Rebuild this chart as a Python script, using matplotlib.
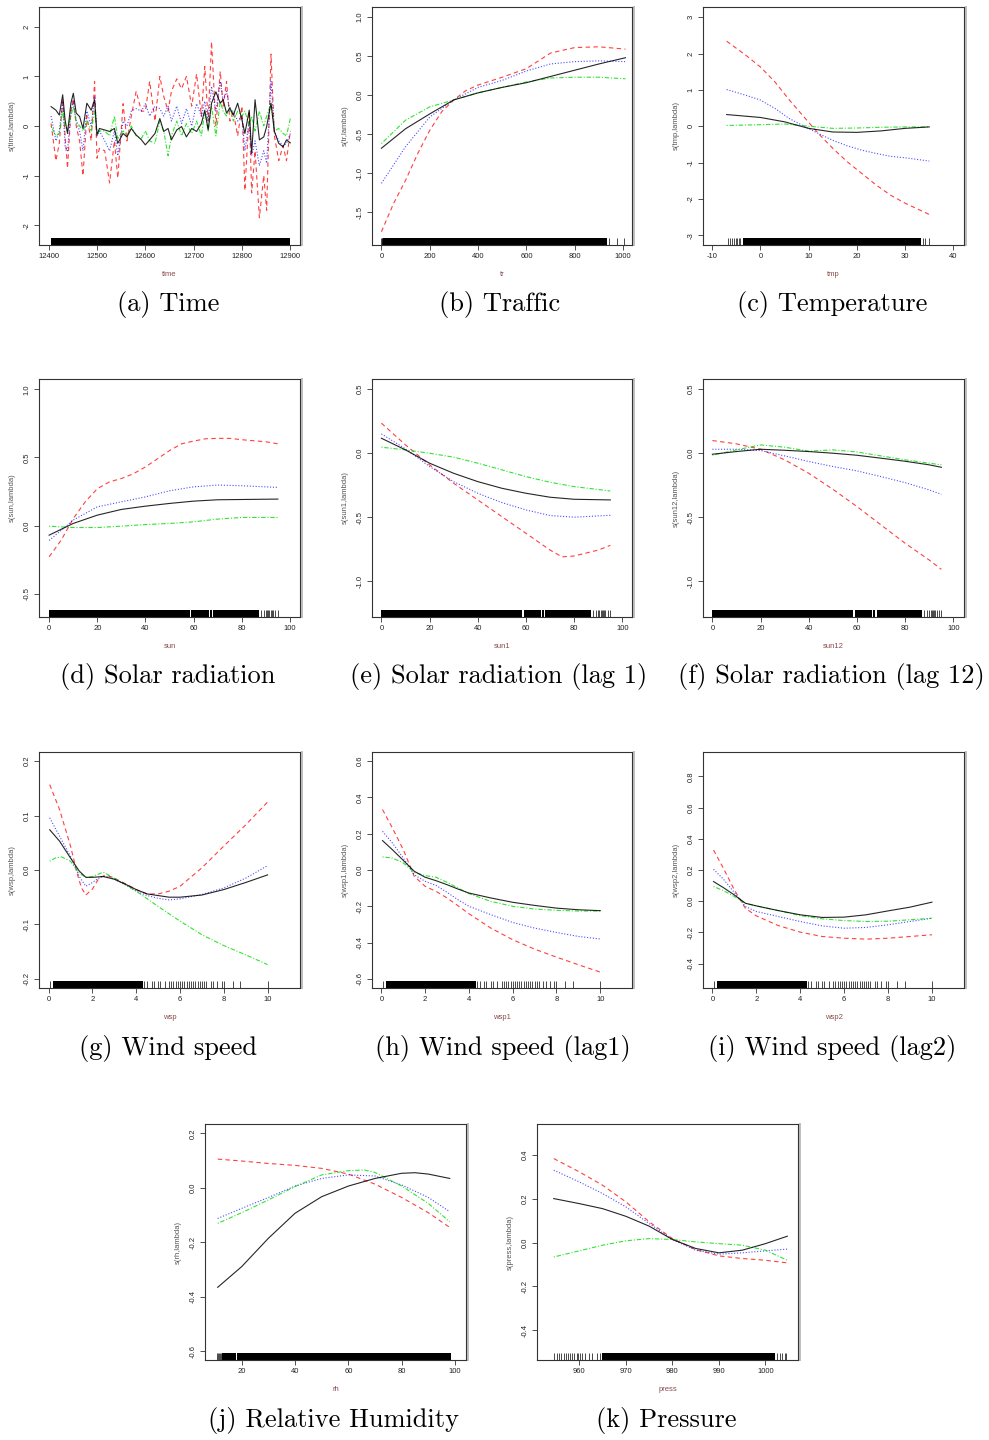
import matplotlib
matplotlib.use("Agg")
import matplotlib.pyplot as plt

W, H = 989, 1440

# ---------------- data ----------------
# (a) time
time_t = [12405, 12415, 12422, 12429, 12434, 12439, 12446, 12451, 12457, 12464,
          12471, 12479, 12488, 12495, 12500, 12505, 12516, 12526, 12536, 12543,
          12554, 12562, 12571, 12581, 12592, 12600, 12609, 12620, 12630, 12638,
          12647, 12654, 12665, 12675, 12685, 12696, 12706, 12716, 12723, 12730,
          12737, 12746, 12755, 12761, 12768, 12775, 12782, 12791, 12800, 12806,
          12815, 12820, 12827, 12836, 12845, 12851, 12860, 12867, 12876, 12885,
          12892, 12900]
time_black = [0.39, 0.32, 0.22, 0.63, 0.12, -0.15, 0.46, 0.66, 0.26, 0.19,
              -0.05, 0.46, 0.32, 0.53, -0.18, -0.05, -0.08, -0.11, -0.05, -0.35,
              -0.15, -0.22, -0.05, -0.18, -0.28, -0.38, -0.28, -0.15, 0.15, -0.11,
              -0.05, -0.28, -0.08, -0.01, -0.22, -0.05, -0.11, 0.05, 0.32, -0.08,
              0.46, 0.69, 0.46, 0.53, 0.26, 0.36, 0.22, 0.46, 0.12, -0.15,
              0.32, -0.55, 0.53, -0.28, -0.22, -0.01, 0.46, -0.11, -0.35, -0.42,
              -0.28, -0.34]
time_red = [0.05, -0.7, -0.35, 0.55, -0.2, -0.85, 0.3, 0.55, 0.0, -0.3,
            -1.0, 0.2, -0.3, 0.9, -0.65, -0.45, -0.5, -1.15, -0.3, -1.05,
            0.45, -0.3, 0.2, 0.7, 0.3, 0.3, 0.9, 0.1, 1.0, 0.6,
            0.3, 0.7, 0.95, 0.75, 1.0, 0.4, 1.05, 0.2, 1.2, 0.1,
            1.7, 0.0, 1.1, 0.4, 0.9, 0.1, 0.3, -0.2, 0.4, -1.3,
            0.3, -1.35, -0.5, -1.85, -1.0, -1.7, 1.45, -0.2, -0.7, -0.4,
            -0.7, -0.1]
time_blue = [0.2, -0.3, -0.1, 0.5, -0.4, -0.5, 0.3, 0.5, 0.1, -0.1,
             -0.5, 0.3, 0.0, 0.6, -0.2, -0.1, -0.3, -0.5, -0.1, -0.6,
             0.1, 0.0, 0.3, 0.35, 0.3, 0.45, 0.2, 0.4, 0.35, 0.2,
             0.4, 0.1, 0.4, 0.05, 0.35, 0.0, 0.45, 0.2, 0.5, 0.1,
             0.8, 0.3, 0.9, 0.5, 0.7, 0.3, 0.3, 0.1, 0.2, -0.5,
             0.1, -0.6, -0.3, -0.8, -0.5, -0.75, 0.9, -0.1, -0.3, -0.4,
             -0.35, -0.15]
time_green = [0.0, -0.2, -0.15, 0.3, 0.0, -0.1, 0.2, 0.4, 0.1, 0.0,
              -0.1, 0.1, -0.1, 0.3, -0.15, -0.1, -0.1, -0.2, 0.2, -0.25,
              -0.1, -0.2, 0.0, -0.2, -0.25, -0.1, -0.3, -0.35, 0.1, -0.1,
              -0.6, -0.2, 0.1, -0.2, 0.05, -0.15, 0.1, -0.2, 0.3, -0.1,
              0.4, -0.2, 0.5, 0.3, 0.2, 0.4, 0.1, 0.3, 0.2, 0.3,
              0.0, 0.2, -0.1, 0.3, 0.0, 0.2, 0.45, -0.1, -0.05, -0.15,
              -0.2, 0.15]
time_rug_span = [(12405, 12900)]
time_rug = []

# (b) traffic
tr_x = [0, 100, 200, 300, 400, 500, 600, 700, 800, 900, 1010]
tr_black = [-0.68, -0.43, -0.24, -0.06, 0.03, 0.10, 0.16, 0.24, 0.32, 0.40, 0.48]
tr_blue = [-1.13, -0.66, -0.28, -0.06, 0.10, 0.19, 0.31, 0.40, 0.43, 0.44, 0.43]
tr_green = [-0.62, -0.32, -0.15, -0.06, 0.03, 0.10, 0.17, 0.22, 0.23, 0.23, 0.21]
tr_red_x = [0, 50, 100, 150, 200, 250, 300, 350, 400, 500, 600, 700, 800, 900, 1010]
tr_red = [-1.75, -1.39, -1.09, -0.75, -0.45, -0.21, -0.06, 0.06, 0.13, 0.23, 0.34,
          0.54, 0.61, 0.62, 0.59]
tr_rug_span = [(8, 935)]
tr_rug = [0, 2, 4, 940, 975, 1003]

# (c) temperature
tmp_x = [-7, 0, 5, 10, 15, 20, 25, 30, 35]
tmp_black = [0.32, 0.24, 0.12, -0.06, -0.16, -0.17, -0.13, -0.06, -0.02]
tmp_green = [0.02, 0.04, 0.06, 0.0, -0.06, -0.05, -0.03, -0.02, -0.02]
tmp_x2 = [-7, -3, 0, 3, 6, 9, 12, 15, 18, 21, 24, 27, 30, 35]
tmp_red = [2.34, 1.95, 1.63, 1.22, 0.72, 0.26, -0.20, -0.61, -0.98, -1.30, -1.62,
           -1.90, -2.12, -2.43]
tmp_blue = [1.01, 0.85, 0.72, 0.49, 0.21, 0.0, -0.2, -0.39, -0.54, -0.66, -0.75,
            -0.83, -0.87, -0.96]
tmp_rug_span = [(-3.7, 33.2)]
tmp_rug = [-6.7, -6.4, -5.8, -5.5, -5.1, -4.8, -4.5, -4.2, 33.8, 34.1, 34.9]

# (d) solar radiation
sun_x = [0, 10, 20, 30, 40, 50, 60, 70, 80, 95]
sun_black = [-0.071, 0.015, 0.076, 0.118, 0.142, 0.162, 0.179, 0.189, 0.191, 0.194]
sun_green = [-0.005, -0.015, -0.015, -0.005, 0.007, 0.015, 0.027, 0.047, 0.059, 0.059]
sun_blue = [-0.11, 0.04, 0.137, 0.174, 0.21, 0.255, 0.284, 0.297, 0.292, 0.28]
sun_red_x = [0, 5, 10, 15, 20, 25, 30, 35, 40, 45, 50, 55, 60, 65, 70, 75, 80, 90, 95]
sun_red = [-0.23, -0.108, 0.05, 0.174, 0.27, 0.32, 0.345, 0.38, 0.43, 0.49, 0.55,
           0.60, 0.62, 0.637, 0.64, 0.64, 0.63, 0.615, 0.60]
sun_rug_span = [(0, 58.5), (59, 66.3), (66.8, 67.6), (68.1, 87)]
sun_rug = [88, 89.2, 90, 90.5, 91, 91.5, 92, 92.5, 93, 94, 95]

# (e) solar radiation lag 1
sun1_x = [0, 10, 20, 30, 40, 50, 60, 70, 80, 95]
sun1_black = [0.117, 0.026, -0.078, -0.157, -0.222, -0.274, -0.313, -0.344, -0.36, -0.365]
sun1_blue = [0.151, 0.034, -0.104, -0.222, -0.313, -0.386, -0.443, -0.487, -0.50, -0.485]
sun1_green = [0.047, 0.026, 0.0, -0.031, -0.078, -0.13, -0.183, -0.227, -0.261, -0.295]
sun1_red_x = [0, 10, 20, 30, 40, 50, 60, 70, 75, 80, 90, 95]
sun1_red = [0.235, 0.065, -0.091, -0.235, -0.365, -0.496, -0.626, -0.757, -0.81,
            -0.803, -0.757, -0.72]

# (f) solar radiation lag 12
sun12_x = [0, 10, 20, 30, 40, 50, 60, 70, 80, 90, 95]
sun12_black = [-0.008, 0.013, 0.031, 0.023, 0.013, 0.0, -0.016, -0.039, -0.063, -0.091, -0.11]
sun12_red = [0.099, 0.073, 0.031, -0.052, -0.157, -0.282, -0.417, -0.561, -0.704, -0.835, -0.908]
sun12_blue = [0.031, 0.031, 0.021, -0.021, -0.065, -0.104, -0.138, -0.183, -0.23, -0.287, -0.321]
sun12_green = [-0.016, 0.026, 0.065, 0.047, 0.016, 0.026, 0.010, -0.021, -0.052, -0.078, -0.091]

# (g) wind speed
wsp_x = [0.05, 0.5, 1.0, 1.4, 1.7, 2.0, 2.5, 3.0, 3.5, 4.0, 4.5, 5.0, 5.5, 6.0, 7.0, 8.0, 9.0, 10]
wsp_black = [0.074, 0.053, 0.022, -0.002, -0.0135, -0.0135, -0.012, -0.017, -0.026, -0.036,
             -0.044, -0.047, -0.05, -0.05, -0.046, -0.036, -0.023, -0.009]
wsp_red_x = [0.05, 0.5, 1.0, 1.3, 1.5, 1.7, 2.0, 2.3, 2.6, 3.0, 3.5, 4.0, 4.5, 5.0, 5.5, 6.0,
             7.0, 8.0, 9.0, 10]
wsp_red = [0.157, 0.111, 0.044, -0.006, -0.033, -0.046, -0.035, -0.015, -0.009, -0.015,
           -0.025, -0.036, -0.044, -0.044, -0.039, -0.03, 0.004, 0.044, 0.083, 0.125]
wsp_blue_x = [0.05, 0.5, 1.0, 1.4, 1.7, 2.0, 2.4, 2.8, 3.5, 4.0, 4.5, 5.0, 5.5, 6.0, 7.0, 8.0, 9.0, 10]
wsp_blue = [0.096, 0.062, 0.025, -0.012, -0.030, -0.023, -0.012, -0.013, -0.027, -0.039,
            -0.047, -0.052, -0.055, -0.053, -0.045, -0.033, -0.015, 0.008]
wsp_green_x = [0.05, 0.3, 0.6, 1.0, 1.4, 1.7, 2.0, 2.5, 3.0, 3.5, 4.0, 5.0, 6.0, 7.0, 8.0, 9.0, 10]
wsp_green = [0.016, 0.022, 0.024, 0.016, -0.006, -0.0135, -0.012, -0.004, -0.015, -0.027,
             -0.039, -0.067, -0.094, -0.119, -0.139, -0.156, -0.174]
wsp_rug_span = [(0.2, 4.3)]
wsp_rug = [0.05, 4.35, 4.5, 4.7, 4.8, 5.0, 5.1, 5.3, 5.5, 5.6, 5.7, 5.8, 5.9, 6.0, 6.1,
           6.2, 6.3, 6.4, 6.5, 6.6, 6.7, 6.8, 6.9, 7.0, 7.1, 7.2, 7.4, 7.5, 7.7, 7.9,
           8.0, 8.4, 8.75, 10.0]

# (h) wind speed lag 1
wsp1_x = [0.05, 0.5, 1.0, 1.5, 2.0, 2.5, 3.0, 3.5, 4.0, 5.0, 6.0, 7.0, 8.0, 9.0, 10]
wsp1_black = [0.162, 0.112, 0.053, -0.007, -0.04, -0.059, -0.081, -0.105, -0.127, -0.154,
              -0.178, -0.195, -0.21, -0.219, -0.224]
wsp1_red = [0.333, 0.232, 0.112, -0.035, -0.09, -0.118, -0.154, -0.197, -0.241, -0.32,
            -0.384, -0.436, -0.48, -0.522, -0.5625]
wsp1_blue = [0.213, 0.149, 0.066, -0.026, -0.0625, -0.085, -0.123, -0.164, -0.2, -0.246,
             -0.289, -0.32, -0.344, -0.366, -0.38]
wsp1_green = [0.072, 0.066, 0.039, -0.013, -0.031, -0.04, -0.068, -0.099, -0.13, -0.173,
              -0.2, -0.215, -0.222, -0.226, -0.226]

# (i) wind speed lag 2
wsp2_x = [0.05, 0.5, 1.0, 1.5, 2.0, 3.0, 4.0, 5.0, 6.0, 7.0, 8.0, 9.0, 10]
wsp2_black = [0.126, 0.087, 0.04, -0.013, -0.03, -0.06, -0.087, -0.104, -0.102, -0.087,
              -0.062, -0.038, -0.006]
wsp2_red = [0.328, 0.211, 0.072, -0.045, -0.094, -0.156, -0.198, -0.226, -0.237, -0.243,
            -0.237, -0.226, -0.215]
wsp2_blue = [0.205, 0.141, 0.055, -0.034, -0.066, -0.098, -0.13, -0.158, -0.173, -0.168,
             -0.151, -0.13, -0.109]
wsp2_green = [0.094, 0.068, 0.03, -0.013, -0.03, -0.06, -0.092, -0.113, -0.124, -0.13,
              -0.128, -0.119, -0.109]

# (j) relative humidity
rh_x = [11, 20, 30, 40, 50, 60, 70, 80, 85, 90, 98]
rh_black = [-0.366, -0.29, -0.186, -0.094, -0.033, 0.006, 0.034, 0.053, 0.055, 0.05, 0.034]
rh_x2 = [11, 20, 30, 40, 50, 60, 70, 80, 90, 98]
rh_red = [0.105, 0.098, 0.089, 0.082, 0.071, 0.05, 0.013, -0.036, -0.092, -0.146]
rh_blue = [-0.113, -0.076, -0.036, 0.006, 0.034, 0.047, 0.043, 0.01, -0.036, -0.088]
rh_green_x = [11, 20, 30, 40, 50, 60, 66, 70, 80, 90, 98]
rh_green = [-0.131, -0.092, -0.045, 0.004, 0.047, 0.0625, 0.065, 0.056, 0.006, -0.058, -0.125]
rh_rug_span = [(12.5, 18.0), (18.3, 98.5)]
rh_rug = [10.6, 11.0, 11.4, 11.8, 12.2]

# (k) pressure
press_x = [954.5, 960, 965, 970, 975, 980, 985, 990, 995, 1000, 1004.7]
press_black = [0.201, 0.178, 0.155, 0.12, 0.075, 0.014, -0.027, -0.047, -0.035, -0.005, 0.029]
press_red = [0.384, 0.323, 0.262, 0.186, 0.095, 0.018, -0.032, -0.061, -0.073, -0.081, -0.093]
press_blue = [0.331, 0.277, 0.224, 0.163, 0.087, 0.014, -0.035, -0.053, -0.047, -0.038, -0.03]
press_green = [-0.066, -0.038, -0.012, 0.008, 0.018, 0.014, 0.003, -0.005, -0.012, -0.035, -0.081]
press_rug_span = [(964.9, 1002.1)]
press_rug = [954.5, 955.1, 955.6, 956.1, 956.8, 957.2, 957.6, 958.1, 958.4, 958.8, 959.4,
             959.7, 960.2, 960.6, 961.3, 962.0, 962.7, 963.8, 964.4,
             1002.5, 1003.1, 1003.6, 1004.1, 1004.5]

# ---------------- drawing ----------------
fig = plt.figure(figsize=(W / 100, H / 100), dpi=100)
fig.patch.set_facecolor("white")

TICKFONT = dict(family="Liberation Sans", size=5.5, color="#222222")


def make_axes(box, xlim, ylim, xticks, xlabels, yticks, ylabels, xname, yname):
    left, top, right, bottom = box
    ax = fig.add_axes([left / W, 1 - bottom / H, (right - left) / W, (bottom - top) / H])
    ax.set_xlim(*xlim)
    ax.set_ylim(*ylim)
    for s in ax.spines.values():
        s.set_color("#333333")
        s.set_linewidth(0.8)
    ax.set_xticks(xticks)
    ax.set_xticklabels(xlabels, fontdict=TICKFONT)
    ax.set_yticks(yticks)
    ax.set_yticklabels(ylabels, fontdict=TICKFONT, rotation=90, va="center")
    ax.tick_params(direction="out", length=3.5, width=0.6, color="#333333", pad=2.5)
    ax.set_xlabel(xname, family="Liberation Sans", size=5.5, color="#8b4a4a", labelpad=8)
    ax.set_ylabel(yname, family="Liberation Sans", size=5.5, color="#555555", labelpad=6)
    # light grey edge to the right of each panel
    ax.plot([1.006, 1.006], [0, 1], transform=ax.transAxes, color="0.75", lw=1.4,
            clip_on=False)
    return ax


def rug(ax, spans, ticks):
    for a, b in spans:
        ax.axvspan(a, b, ymin=0, ymax=0.03, color="black", lw=0)
    ax.vlines(ticks, 0, 0.03, transform=ax.get_xaxis_transform(), color="black", lw=0.5)


def curves(ax, black, red, blue, green):
    ax.plot(*black, color="black", lw=0.8, alpha=0.85, zorder=4)
    ax.plot(*red, color="red", lw=0.8, alpha=0.75, dashes=(4, 3))
    ax.plot(*blue, color="blue", lw=0.8, alpha=0.7, dashes=(1, 1.6))
    ax.plot(*green, color="#00dd00", lw=0.8, alpha=0.8, dashes=(1, 1.6, 4, 1.6))


def caption(text, cx, cy):
    fig.text(cx / W, 1 - cy / H, text, family="cmr10", size=19, ha="center", va="center")


def fmt(vals, nd):
    return [f"{v:.{nd}f}" for v in vals]


# (a)
ax = make_axes((39, 7, 300, 245), (12380, 12920), (-2.4, 2.4),
               [12400, 12500, 12600, 12700, 12800, 12900],
               ["12400", "12500", "12600", "12700", "12800", "12900"],
               [-2, -1, 0, 1, 2], ["-2", "-1", "0", "1", "2"], "time", "s(time,lambda)")
curves(ax, (time_t, time_black), (time_t, time_red), (time_t, time_blue), (time_t, time_green))
rug(ax, time_rug_span, time_rug)
caption("(a) Time", 168, 305)

# (b)
yt = [-1.5, -1.0, -0.5, 0.0, 0.5, 1.0]
ax = make_axes((372, 7, 632, 245), (-39, 1037), (-1.92, 1.13),
               [0, 200, 400, 600, 800, 1000], ["0", "200", "400", "600", "800", "1000"],
               yt, fmt(yt, 1), "tr", "s(tr,lambda)")
curves(ax, (tr_x, tr_black), (tr_red_x, tr_red), (tr_x, tr_blue), (tr_x, tr_green))
rug(ax, tr_rug_span, tr_rug)
caption("(b) Traffic", 500, 305)

# (c)
ax = make_axes((703, 7, 964, 245), (-11.9, 42.2), (-3.27, 3.28),
               [-10, 0, 10, 20, 30, 40], ["-10", "0", "10", "20", "30", "40"],
               [-3, -2, -1, 0, 1, 2, 3], ["-3", "-2", "-1", "0", "1", "2", "3"],
               "tmp", "s(tmp,lambda)")
curves(ax, (tmp_x, tmp_black), (tmp_x2, tmp_red), (tmp_x2, tmp_blue), (tmp_x, tmp_green))
rug(ax, tmp_rug_span, tmp_rug)
caption("(c) Temperature", 832, 305)

# (d)
xt = [0, 20, 40, 60, 80, 100]
yt = [-0.5, 0.0, 0.5, 1.0]
ax = make_axes((39, 379, 300, 617), (-4.2, 104.2), (-0.672, 1.076),
               xt, [str(v) for v in xt], yt, fmt(yt, 1), "sun", "s(sun,lambda)")
curves(ax, (sun_x, sun_black), (sun_red_x, sun_red), (sun_x, sun_blue), (sun_x, sun_green))
rug(ax, sun_rug_span, sun_rug)
caption("(d) Solar radiation", 168, 677)

# (e)
yt = [-1.0, -0.5, 0.0, 0.5]
ax = make_axes((372, 379, 632, 617), (-3.9, 104), (-1.28, 0.58),
               xt, [str(v) for v in xt], yt, fmt(yt, 1), "sun1", "s(sun1,lambda)")
curves(ax, (sun1_x, sun1_black), (sun1_red_x, sun1_red), (sun1_x, sun1_blue),
       (sun1_x, sun1_green))
rug(ax, sun_rug_span, sun_rug)
caption("(e) Solar radiation (lag 1)", 499, 677)

# (f)
ax = make_axes((703, 379, 964, 617), (-3.9, 104.4), (-1.28, 0.58),
               xt, [str(v) for v in xt], yt, fmt(yt, 1), "sun12", "s(sun12,lambda)")
curves(ax, (sun12_x, sun12_black), (sun12_x, sun12_red), (sun12_x, sun12_blue),
       (sun12_x, sun12_green))
rug(ax, sun_rug_span, sun_rug)
caption("(f) Solar radiation (lag 12)", 831, 677)

# (g)
xt = [0, 2, 4, 6, 8, 10]
yt = [-0.2, -0.1, 0.0, 0.1, 0.2]
ax = make_axes((39, 752, 300, 988), (-0.44, 11.48), (-0.217, 0.217),
               xt, [str(v) for v in xt], yt, fmt(yt, 1), "wsp", "s(wsp,lambda)")
curves(ax, (wsp_x, wsp_black), (wsp_red_x, wsp_red), (wsp_blue_x, wsp_blue),
       (wsp_green_x, wsp_green))
rug(ax, wsp_rug_span, wsp_rug)
caption("(g) Wind speed", 168, 1049)

# (h)
yt = [-0.6, -0.4, -0.2, 0.0, 0.2, 0.4, 0.6]
ax = make_axes((372, 752, 632, 988), (-0.43, 11.45), (-0.65, 0.65),
               xt, [str(v) for v in xt], yt, fmt(yt, 1), "wsp1", "s(wsp1,lambda)")
curves(ax, (wsp1_x, wsp1_black), (wsp1_x, wsp1_red), (wsp1_x, wsp1_blue),
       (wsp1_x, wsp1_green))
rug(ax, wsp_rug_span, wsp_rug)
caption("(h) Wind speed (lag1)", 503, 1049)

# (i)
yt = [-0.4, -0.2, 0.0, 0.2, 0.4, 0.6, 0.8]
ax = make_axes((703, 752, 964, 988), (-0.43, 11.46), (-0.556, 0.956),
               xt, [str(v) for v in xt], yt, fmt(yt, 1), "wsp2", "s(wsp2,lambda)")
curves(ax, (wsp2_x, wsp2_black), (wsp2_x, wsp2_red), (wsp2_x, wsp2_blue),
       (wsp2_x, wsp2_green))
rug(ax, wsp_rug_span, wsp_rug)
caption("(i) Wind speed (lag2)", 832, 1049)

# (j)
xt = [20, 40, 60, 80, 100]
yt = [-0.6, -0.4, -0.2, 0.0, 0.2]
ax = make_axes((205, 1124, 466, 1360), (6.25, 104.1), (-0.633, 0.234),
               xt, [str(v) for v in xt], yt, fmt(yt, 1), "rh", "s(rh,lambda)")
curves(ax, (rh_x, rh_black), (rh_x2, rh_red), (rh_x2, rh_blue), (rh_green_x, rh_green))
rug(ax, rh_rug_span, rh_rug)
caption("(j) Relative Humidity", 333, 1420)

# (k)
xt = [960, 970, 980, 990, 1000]
yt = [-0.4, -0.2, 0.0, 0.2, 0.4]
ax = make_axes((537, 1124, 798, 1360), (950.9, 1007.0), (-0.537, 0.542),
               xt, [str(v) for v in xt], yt, fmt(yt, 1), "press", "s(press,lambda)")
curves(ax, (press_x, press_black), (press_x, press_red), (press_x, press_blue),
       (press_x, press_green))
rug(ax, press_rug_span, press_rug)
caption("(k) Pressure", 666, 1420)

fig.savefig("out.png", dpi=100, facecolor="white")
